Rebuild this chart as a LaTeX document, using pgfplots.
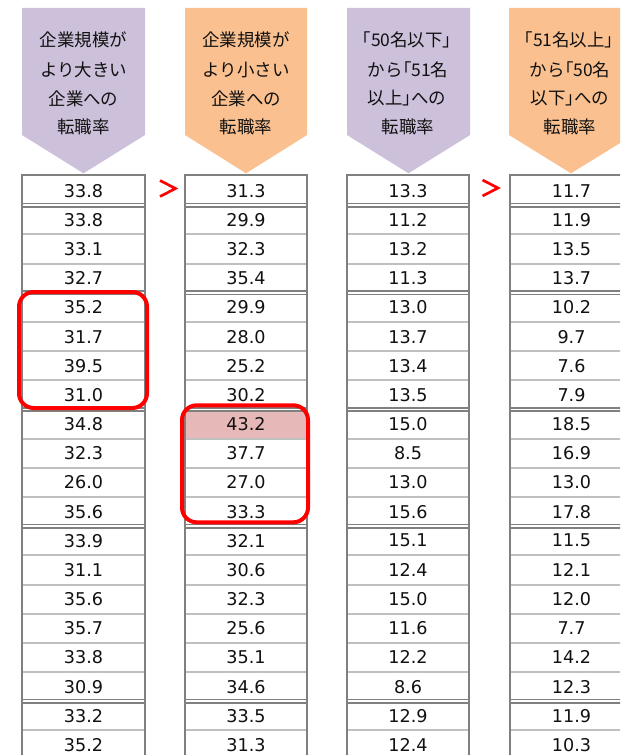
\documentclass[border=0pt]{standalone}
\usepackage{fontspec}
\usepackage{pgfplots}
\usepackage{pgfplotstable}
\pgfplotsset{compat=1.18}
\setmainfont{DejaVu Sans}
\newfontfamily\jpfont{Noto Sans CJK JP}
\newfontfamily\jppalt[RawFeature=+palt]{Noto Sans CJK JP}
\newcommand\lb{{\jppalt 「}}
\newcommand\rb{{\jppalt 」}}
\definecolor{lav}{HTML}{CCC0DA}
\definecolor{org}{HTML}{FAC090}
\definecolor{pinkc}{HTML}{E6B9B8}
\definecolor{bord}{HTML}{808080}
\definecolor{sepc}{HTML}{C0C0C0}
\definecolor{txt}{HTML}{111111}

\pgfplotstableread{
y c1 c2 c3 c4
190.7 33.8 31.3 13.3 11.7
219.9 33.8 29.9 11.2 11.9
249.0 33.1 32.3 13.2 13.5
278.2 32.7 35.4 11.3 13.7
307.4 35.2 29.9 13.0 10.2
336.6 31.7 28.0 13.7 9.7
365.7 39.5 25.2 13.4 7.6
394.9 31.0 30.2 13.5 7.9
424.1 34.8 43.2 15.0 18.5
453.2 32.3 37.7 8.5 16.9
482.4 26.0 27.0 13.0 13.0
511.6 35.6 33.3 15.6 17.8
540.7 33.9 32.1 15.1 11.5
569.9 31.1 30.6 12.4 12.1
599.1 35.6 32.3 15.0 12.0
628.3 35.7 25.6 11.6 7.7
657.4 33.8 35.1 12.2 14.2
686.6 30.9 34.6 8.6 12.3
715.8 33.2 33.5 12.9 11.9
744.9 35.2 31.3 12.4 10.3
}\datatab

\begin{document}
\begin{tikzpicture}
\begin{axis}[
  name=ax,
  width=465pt, height=566.25pt, scale only axis,
  xmin=0, xmax=620, ymin=0, ymax=755, y dir=reverse,
  hide axis, clip=true,
]
% background
\fill[white] (0,0) rectangle (620,755);
% headers
\fill[lav] (22,8) -- (145,8) -- (145,135) -- (83.5,173.3) -- (22,135) -- cycle;
\fill[org] (185,8) -- (307,8) -- (307,135) -- (246,173.3) -- (185,135) -- cycle;
\fill[lav] (347,8) -- (470,8) -- (470,135) -- (408.5,173.3) -- (347,135) -- cycle;
\fill[org] (509,8) -- (633,8) -- (633,135) -- (571,173.3) -- (509,135) -- cycle;
\begin{scope}[every node/.style={font=\jpfont\fontsize{13.1pt}{15pt}\selectfont, text=txt, anchor=center, inner sep=0pt}]
\node at (83.5,40) {企業規模が};
\node at (83.5,70) {より大きい};
\node at (83.5,98.5) {企業への};
\node at (83.5,127) {転職率};
\node at (246,40) {企業規模が};
\node at (246,70) {より小さい};
\node at (246,98.5) {企業への};
\node at (246,127) {転職率};
\node at (407,40) {\lb 50名以下\rb};
\node at (408,70) {から\lb 51名};
\node at (407,98.5) {以上\rb への};
\node at (408,127) {転職率};
\node at (569,40) {\lb 51名以上\rb};
\node at (570,70) {から\lb 50名};
\node at (570,98.5) {以下\rb への};
\node at (570,127) {転職率};
\end{scope}
% cells
\fill[pinkc] (185,409.5) rectangle (307,438.7);
% single separators
\pgfplotsinvokeforeach{234.4,263.6,322.0,351.1,380.3,438.7,467.8,497.0,555.3,584.5,613.7,642.9,672.0,730.4}{
  \draw[sepc, line width=1.5pt] (22,#1) -- (145,#1) (185,#1) -- (307,#1) (347,#1) -- (469,#1) (510,#1) -- (633,#1);
}
% double separators
\pgfplotsinvokeforeach{205.3,292.8,409.5,526.2,701.2}{
  \draw[bord, line width=1.1pt] (22,#1-1.7) -- (145,#1-1.7) (185,#1-1.7) -- (307,#1-1.7) (347,#1-1.7) -- (469,#1-1.7) (510,#1-1.7) -- (633,#1-1.7);
  \draw[bord, line width=1.1pt] (22,#1+1.7) -- (145,#1+1.7) (185,#1+1.7) -- (307,#1+1.7) (347,#1+1.7) -- (469,#1+1.7) (510,#1+1.7) -- (633,#1+1.7);
}
% outer borders
\draw[bord, line width=1.5pt] (22,800) -- (22,175.5) -- (145,175.5) -- (145,800);
\draw[bord, line width=1.5pt] (185,800) -- (185,175.5) -- (307,175.5) -- (307,800);
\draw[bord, line width=1.5pt] (347,800) -- (347,175.5) -- (469,175.5) -- (469,800);
\draw[bord, line width=1.5pt] (510,800) -- (510,175.5) -- (633,175.5) -- (633,800);
% values
\pgfplotsset{valstyle/.style={draw=none, mark=none, nodes near coords, point meta=explicit symbolic,
  nodes near coords style={anchor=center, inner sep=0pt, text=txt, font=\fontsize{13.2pt}{15pt}\selectfont}}}
\addplot[valstyle] table[x expr=83.5, y=y, meta=c1] {\datatab};
\addplot[valstyle] table[x expr=246, y=y, meta=c2] {\datatab};
\addplot[valstyle] table[x expr=408, y=y, meta=c3] {\datatab};
\addplot[valstyle] table[x expr=571.5, y=y, meta=c4] {\datatab};
% red chevrons
\draw[red, line width=2pt, miter limit=10] (160,180.5) -- (175.5,188.5) -- (160,196.5);
\draw[red, line width=2pt, miter limit=10] (482.5,180) -- (498,188) -- (482.5,196);
% red rounded boxes
\draw[red, line width=3pt, rounded corners=11pt] (19,292) rectangle (147,408);
\draw[red, line width=3pt, rounded corners=11pt] (182,405.3) rectangle (308,522.3);
\end{axis}
\pgfresetboundingbox
\path[use as bounding box] (ax.south west) rectangle (ax.north east);
\end{tikzpicture}
\end{document}
